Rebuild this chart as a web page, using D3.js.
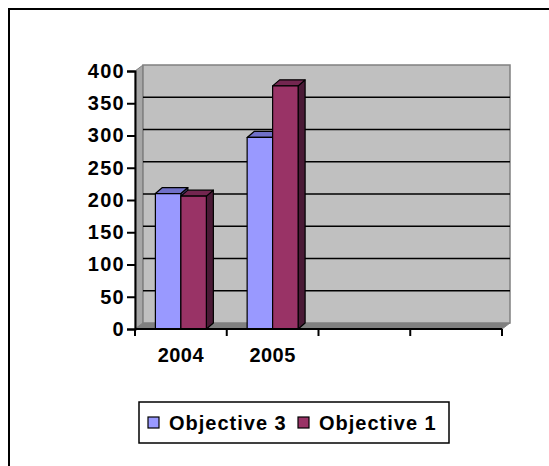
<!DOCTYPE html>
<html>
<head>
<meta charset="utf-8">
<script src="https://cdn.jsdelivr.net/npm/d3@7"></script>
<style>
  body { margin: 0; background: #fff; }
  text { font-family: Arial, "Liberation Sans", sans-serif; font-weight: bold; }
</style>
</head>
<body>
<svg width="549" height="466"></svg>
<script>
// data
const categories = ["2004", "2005", "", ""];
const seriesNames = ["Objective 3", "Objective 1"];
const objective3 = [210, 297];
const objective1 = [206, 377];
const yTickValues = [0, 50, 100, 150, 200, 250, 300, 350, 400];

const colors = {
    "Objective 3": {front: "#9999FF", top: "#7070C8", side: "#4D4D80"},
    "Objective 1": {front: "#993366", top: "#732650", side: "#4A1A36"}
};

// 3d offsets of the back wall and of the bars
const wallDx = 8, wallDy = -6;
const barDx = 7, barDy = -6;

const plotLeft = 135, plotRight = 502, plotBottom = 329, plotTop = 71;

const svg = d3.select("svg");

// outer chart border (cut off by the picture on right and bottom)
svg.append("rect")
    .attr("x", 9).attr("y", 9)
    .attr("width", 600).attr("height", 500)
    .attr("fill", "none")
    .attr("stroke", "#000")
    .attr("stroke-width", 2);

const x = d3.scaleBand()
    .domain(d3.range(categories.length))
    .range([plotLeft, plotRight]);

const xInner = d3.scaleBand()
    .domain(seriesNames)
    .range([0, x.bandwidth()])
    .paddingOuter(0.8);

const y = d3.scaleLinear()
    .domain([0, 400])
    .range([plotBottom, plotTop]);

const poly = pts => "M" + pts.map(p => p.join(",")).join("L") + "Z";

// walls and floor
const gWalls = svg.append("g");
gWalls.append("path") // left side wall
    .attr("d", poly([[plotLeft, y(0)], [plotLeft + wallDx, y(0) + wallDy],
                     [plotLeft + wallDx, y(400) + wallDy], [plotLeft, y(400)]]))
    .attr("fill", "#A6A6A6").attr("stroke", "#808080");
gWalls.append("path") // floor
    .attr("d", poly([[plotLeft, y(0)], [plotRight, y(0)],
                     [plotRight + wallDx, y(0) + wallDy], [plotLeft + wallDx, y(0) + wallDy]]))
    .attr("fill", "#808080").attr("stroke", "#808080");
gWalls.append("rect") // back wall
    .attr("x", plotLeft + wallDx)
    .attr("y", y(400) + wallDy)
    .attr("width", plotRight - plotLeft)
    .attr("height", y(0) - y(400))
    .attr("fill", "#C0C0C0")
    .attr("stroke", "#808080")
    .attr("stroke-width", 1.5);

// gridlines on the back wall
gWalls.selectAll("line.grid")
    .data(yTickValues.filter(v => v > 0 && v < 400))
    .enter().append("line")
    .attr("class", "grid")
    .attr("x1", plotLeft + wallDx)
    .attr("x2", plotRight + wallDx)
    .attr("y1", d => y(d) + wallDy)
    .attr("y2", d => y(d) + wallDy)
    .attr("stroke", "#000")
    .attr("stroke-width", 1.5);

// bars
const barData = [];
categories.forEach((c, i) => {
    if (i < objective3.length) {
        barData.push({cat: i, series: "Objective 3", value: objective3[i]});
        barData.push({cat: i, series: "Objective 1", value: objective1[i]});
    }
});

const gBars = svg.append("g");
barData.forEach(d => {
    const x0 = x(d.cat) + xInner(d.series);
    const x1 = x0 + xInner.bandwidth();
    const yTop = y(d.value), yBot = y(0);
    const c = colors[d.series];
    const g = gBars.append("g")
        .attr("stroke", "#000")
        .attr("stroke-width", 1.2)
        .attr("stroke-linejoin", "round");
    g.append("path") // side
        .attr("d", poly([[x1, yBot], [x1 + barDx, yBot + barDy],
                         [x1 + barDx, yTop + barDy], [x1, yTop]]))
        .attr("fill", c.side);
    g.append("path") // top
        .attr("d", poly([[x0, yTop], [x1, yTop],
                         [x1 + barDx, yTop + barDy], [x0 + barDx, yTop + barDy]]))
        .attr("fill", c.top);
    g.append("rect") // front
        .attr("x", x0).attr("y", yTop)
        .attr("width", x1 - x0).attr("height", yBot - yTop)
        .attr("fill", c.front);
});

// Y axis
const yAxis = svg.append("g")
    .attr("transform", `translate(${plotLeft},0)`)
    .call(d3.axisLeft(y).tickValues(yTickValues).tickSize(8).tickPadding(2));
yAxis.select(".domain").attr("stroke-width", 2);
yAxis.selectAll(".tick line").attr("stroke-width", 2);
yAxis.selectAll(".tick text")
    .attr("font-size", "20px")
    .attr("letter-spacing", "1.3px")
    .attr("font-family", "Arial, 'Liberation Sans', sans-serif")
    .attr("font-weight", "bold")
    .attr("fill", "#000");

// X axis, ticks on band boundaries
const gx = svg.append("g");
gx.append("line")
    .attr("x1", plotLeft).attr("x2", plotRight)
    .attr("y1", plotBottom).attr("y2", plotBottom)
    .attr("stroke", "#000").attr("stroke-width", 2);
const boundaries = d3.range(categories.length + 1)
    .map(i => i < categories.length ? x(i) : plotRight);
gx.selectAll("line.xt")
    .data(boundaries)
    .enter().append("line")
    .attr("class", "xt")
    .attr("x1", d => d).attr("x2", d => d)
    .attr("y1", plotBottom).attr("y2", plotBottom + 7)
    .attr("stroke", "#000").attr("stroke-width", 2);
gx.selectAll("text")
    .data(categories)
    .enter().append("text")
    .attr("x", (d, i) => x(i) + x.bandwidth() / 2)
    .attr("y", 362)
    .attr("text-anchor", "middle")
    .attr("font-size", "20px")
    .attr("letter-spacing", "0.5px")
    .text(d => d);

// legend
const legend = svg.append("g");
legend.append("rect")
    .attr("x", 139).attr("y", 402)
    .attr("width", 310).attr("height", 41)
    .attr("fill", "#fff")
    .attr("stroke", "#000")
    .attr("stroke-width", 1.5);
const legendX = [148, 298];
seriesNames.forEach((s, i) => {
    legend.append("rect")
        .attr("x", legendX[i]).attr("y", 417)
        .attr("width", 11).attr("height", 11)
        .attr("fill", colors[s].front)
        .attr("stroke", "#000")
        .attr("stroke-width", 1.2);
    legend.append("text")
        .attr("x", legendX[i] + 21)
        .attr("y", 430)
        .attr("font-size", "20px")
        .attr("letter-spacing", "1px")
        .text(s);
});
</script>
</body>
</html>
